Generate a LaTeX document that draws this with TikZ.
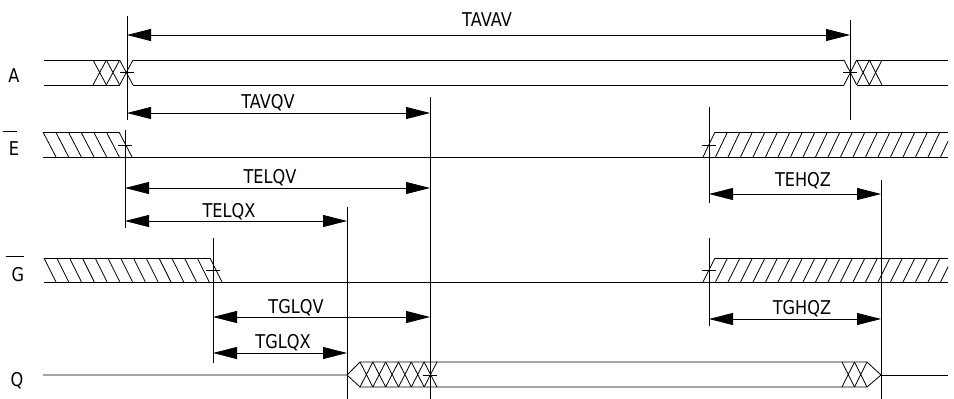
\documentclass[tikz,border=0pt]{standalone}
\usepackage{fontspec}
\setsansfont{DejaVu Sans}[FakeStretch=0.85]
\usetikzlibrary{arrows.meta}
\tikzset{
  wave/.style={draw,line width=0.8pt},
  timing/.style={draw,line width=0.8pt},
  tick/.style={draw,line width=0.6pt},
}

\begin{document}
\begin{tikzpicture}[x=1pt,y=-1pt,
  >={Triangle[length=24pt,width=12pt]},
  dim/.style={<->,line width=0.8pt},
  lbl/.style={font=\sffamily\fontsize{19}{19}\selectfont,inner sep=0pt,anchor=base},
]
\useasboundingbox (0,0) rectangle (954,399);

% signal names
\node[lbl] (nA) at (14,82) {A};
\node[lbl] (nE) at (14,155) {E};
\node[lbl] (nG) at (18,281) {G};
\node[lbl] (nQ) at (17,386) {Q};
\draw[wave] ([xshift=-6pt,yshift=10pt]nE.north west) -- ([xshift=-2pt,yshift=10pt]nE.north east);
\draw[wave] ([xshift=-6pt,yshift=10pt]nG.north west) -- ([yshift=10pt]nG.north east);

% A
\draw[wave] (44,60) -- (119.6,60) (44,85) -- (119.6,85);
\draw[wave] (133,60) -- (844,60) (133,85) -- (844,85);
\draw[wave] (856.7,60) -- (948,60) (856.7,85) -- (948,85);
\foreach \x in {93,106.3,119.6}
  \draw[wave] (\x,60) -- ++(13.4,25) (\x,85) -- ++(13.4,-25);
\foreach \x in {844,856.7,869.3}
  \draw[wave] (\x,60) -- ++(12.7,25) (\x,85) -- ++(12.7,-25);

% E
\draw[wave] (43,132) -- (119,132) (43,157) -- (948,157);
\foreach \x in {43,55.67,...,120}
  \draw[wave] (\x,132) -- ++(13,25);
\draw[wave] (715,132) -- (948,132);
\begin{scope}
  \clip (700,120) rectangle (948,170);
  \foreach \x in {703,715.5,...,950}
    \draw[wave] (\x,157) -- ++(12,-25);
\end{scope}

% G
\draw[wave] (44,258) -- (210,258) (44,282) -- (948,282);
\foreach \x in {44,56.77,...,211}
  \draw[wave] (\x,258) -- ++(12,24);
\draw[wave] (715,258) -- (948,258);
\begin{scope}
  \clip (700,250) rectangle (948,290);
  \foreach \x in {703,715.5,...,950}
    \draw[wave] (\x,282) -- ++(12,-24);
\end{scope}

% Q
\draw[wave] (43,375) -- (347,375) (360,362) -- (347,375) -- (360,387);
\draw[wave] (360,362) -- (867,362) -- (881,375) -- (867,387) -- (360,387);
\draw[wave] (881,375) -- (948,375);
\foreach \x in {360,372.83,...,430}
  \draw[wave] (\x,362) -- ++(12.83,25) (\x,387) -- ++(12.83,-25);
\foreach \x in {842,854.5}
  \draw[wave] (\x,362) -- ++(12.5,25) (\x,387) -- ++(12.5,-25);

% small ticks at the crossings
\foreach \x/\y in {127/72.5,850/72.5,125/145,709/145,213/270,709/270,430/375}
  \draw[tick] (\x-7,\y) -- (\x+7,\y);

% timing lines
\foreach \nm/\x/\ya/\yb in {av1/127/16/120,el/125/130/228,gl/213/238/363,
    qx/347/207/399,qv/430/97/399,av2/850/20/120,eh/709/107/203,
    gh/709/238/326,qz/881/180/399} {
  \coordinate (\nm-t) at (\x,\ya);
  \coordinate (\nm-b) at (\x,\yb);
  \draw[timing] (\nm-t) -- (\nm-b);
}

% dimension arrows
\foreach \nm/\xa/\xb/\y/\lx/\ly in {TAVAV/127/850/35/487/26,
    TAVQV/127/430/113/268/108,TELQV/125/430/188/270/183,
    TELQX/125/347/221/229/217,TEHQZ/709/881/194/803/186,
    TGLQV/213/430/317/296/313,TGLQX/213/347/353/283/348,
    TGHQZ/709/881/319/802/314} {
  \coordinate (\nm-l) at (\xa,\y);
  \coordinate (\nm-r) at (\xb,\y);
  \draw[dim] (\nm-l) -- (\nm-r);
  \node[lbl] (\nm) at (\lx,\ly) {\nm};
}
\end{tikzpicture}
\end{document}
